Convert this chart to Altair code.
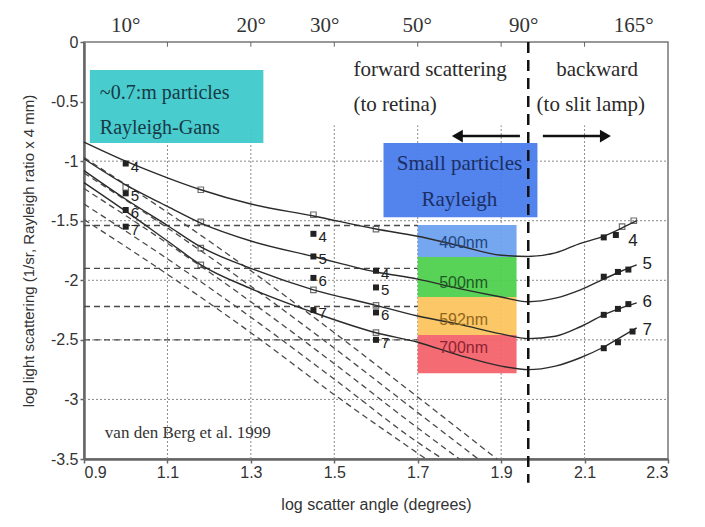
import altair as alt
import pandas as pd
import numpy as np

# ---------------- data ----------------
series_labels = ["4", "5", "6", "7"]

# solid curves (total scattering) for 400, 500, 592, 700 nm
solid_x = [0.9, 1.0, 1.1, 1.18, 1.3, 1.45, 1.6, 1.7, 1.8, 1.9, 1.965, 2.03, 2.09, 2.146, 2.19, 2.225]
solid_4 = [-0.84, -1.0, -1.14, -1.24, -1.36, -1.46, -1.57, -1.63, -1.71, -1.79, -1.80, -1.77, -1.69, -1.63, -1.56, -1.50]
solid_5 = [-0.98, -1.2, -1.38, -1.52, -1.67, -1.80, -1.93, -1.99, -2.07, -2.14, -2.18, -2.15, -2.08, -1.99, -1.92, -1.87]
solid_6 = [-1.08, -1.32, -1.54, -1.72, -1.90, -2.08, -2.21, -2.30, -2.37, -2.45, -2.49, -2.47, -2.39, -2.29, -2.23, -2.19]
solid_7 = [-1.18, -1.42, -1.67, -1.87, -2.07, -2.27, -2.44, -2.52, -2.63, -2.72, -2.75, -2.72, -2.65, -2.56, -2.47, -2.40]

# Rayleigh-Gans dashed curves
rg_a_x = [0.9, 1.1, 1.3, 1.5, 1.7, 1.89]
rg_a_y = [-0.97, -1.43, -1.92, -2.44, -2.98, -3.5]
rg_b_x = [0.9, 1.1, 1.3, 1.5, 1.7, 1.845]
rg_b_y = [-1.10, -1.56, -2.05, -2.57, -3.11, -3.5]
rg_c_x = [0.9, 1.1, 1.3, 1.5, 1.7, 1.80]
rg_c_y = [-1.23, -1.69, -2.18, -2.70, -3.24, -3.5]
rg_d_x = [0.9, 1.1, 1.3, 1.5, 1.7, 1.76]
rg_d_y = [-1.36, -1.82, -2.31, -2.83, -3.36, -3.5]
rg_e_x = [0.9, 1.1, 1.3, 1.5, 1.72]
rg_e_y = [-1.49, -1.95, -2.44, -2.96, -3.5]

# Rayleigh (horizontal dashed) levels, drawn from 0.9 to 1.7
rayleigh_y = [-1.54, -1.90, -2.22, -2.50]
rayleigh_x = [0.9, 1.70]

# open squares on the curves
open_x = [1.0, 1.18, 1.18, 1.18, 1.18, 1.45, 1.45, 1.6, 1.6, 1.6, 2.19, 2.218]
open_y = [-1.22, -1.24, -1.51, -1.73, -1.87, -1.45, -2.08, -1.57, -2.21, -2.44, -1.55, -1.50]

# filled, numbered data points
fill_x = [1.0, 1.0, 1.0, 1.0, 1.45, 1.45, 1.45, 1.45, 1.6, 1.6, 1.6, 1.6]
fill_y = [-1.02, -1.27, -1.41, -1.55, -1.61, -1.80, -1.98, -2.25, -1.92, -2.06, -2.27, -2.50]
fill_lab = ["4", "5", "6", "7", "4", "5", "6", "7", "4", "5", "6", "7"]

# filled points on the backward side
back_x = [2.146, 2.175, 2.146, 2.18, 2.205, 2.146, 2.18, 2.205, 2.146, 2.18, 2.215]
back_y = [-1.64, -1.62, -1.97, -1.93, -1.91, -2.29, -2.24, -2.20, -2.57, -2.52, -2.43]
back_lab_x = [2.205, 2.239, 2.239, 2.239]
back_lab_y = [-1.67, -1.86, -2.18, -2.42]

# axes
x_ticks = [0.9, 1.1, 1.3, 1.5, 1.7, 1.9, 2.1, 2.3]
y_ticks = [0, -0.5, -1, -1.5, -2, -2.5, -3, -3.5]
grid_x = [1.1, 1.3, 1.5, 1.7, 1.9, 2.1]
grid_y = [-1, -1.5, -2, -2.5, -3]
top_angles = [10, 20, 30, 50, 90, 165]
top_labels = ["10°", "20°", "30°", "50°", "90°", "165°"]

# colored boxes
band_names = ["400nm", "500nm", "592nm", "700nm"]
band_colors = ["#6ea2ef", "#4fd14f", "#fbc45f", "#f4636d"]
band_text_colors = ["#24457e", "#1f5a22", "#93661a", "#8e2230"]
band_edges = [-1.537, -1.805, -2.141, -2.46, -2.78]
band_x = [1.70, 1.937]

# ---------------- helpers ----------------
xscale = alt.Scale(domain=[0.9, 2.3], nice=False, zero=False)
yscale = alt.Scale(domain=[-3.5, 0], nice=False, zero=False)
xaxis = alt.Axis(values=x_ticks, title="log scatter angle (degrees)",
                 labelExpr="format(datum.value, '.1f')", grid=False,
                 tickSize=4, labelPadding=1, titlePadding=16)
yaxis = alt.Axis(values=y_ticks, title="log light scattering (1/sr, Rayleigh ratio x 4 mm)",
                 labelExpr="datum.value == 0 ? '0' : '-' + format(abs(datum.value), '')",
                 grid=False, tickSize=4, labelPadding=2, titlePadding=14)


def X(f="x"):
    return alt.X(f"{f}:Q", scale=xscale, axis=xaxis)


def Y(f="y"):
    return alt.Y(f"{f}:Q", scale=yscale, axis=yaxis)


SERIF = "Liberation Serif"
SANS = "Liberation Sans"

# ---------------- layers ----------------
gv = pd.DataFrame({"x": grid_x, "y": -3.5, "y2": -0.7})
grid_v = alt.Chart(gv).mark_rule(color="#8a8a8a", strokeDash=[2, 2], strokeWidth=1).encode(
    x=X(), y=Y(), y2="y2:Q")
gh = pd.DataFrame({"y": grid_y, "x": 0.9, "x2": 2.3})
grid_h = alt.Chart(gh).mark_rule(color="#8a8a8a", strokeDash=[2, 2], strokeWidth=1).encode(
    y=Y(), x=X(), x2="x2:Q")

boxes = pd.DataFrame({
    "x": [0.914, 1.618] + [band_x[0]] * 4,
    "x2": [1.33, 1.987] + [band_x[1]] * 4,
    "y": [-0.235, -0.848] + band_edges[:4],
    "y2": [-0.848, -1.47] + band_edges[1:],
    "color": ["#3fc9cb", "#4a7cec"] + band_colors,
})
rects = alt.Chart(boxes).mark_rect(opacity=0.95).encode(
    x=X(), x2="x2:Q", y=Y(), y2="y2:Q", color=alt.Color("color:N", scale=None))

rg_rows = []
for name, xs, ys in [("a", rg_a_x, rg_a_y), ("b", rg_b_x, rg_b_y), ("c", rg_c_x, rg_c_y),
                     ("d", rg_d_x, rg_d_y), ("e", rg_e_x, rg_e_y)]:
    for xv, yv in zip(xs, ys):
        rg_rows.append({"s": name, "x": xv, "y": yv})
rg = alt.Chart(pd.DataFrame(rg_rows)).mark_line(
    color="#4a4a4a", strokeDash=[6, 4], strokeWidth=1.3, interpolate="monotone").encode(
    x=X(), y=Y(), detail="s:N")

rl = pd.DataFrame({"y": rayleigh_y, "x": rayleigh_x[0], "x2": rayleigh_x[1]})
ray = alt.Chart(rl).mark_rule(color="#4a4a4a", strokeDash=[6, 4], strokeWidth=1.3).encode(
    y=Y(), x=X(), x2="x2:Q")

solid_rows = []
for lab, ys in zip(series_labels, [solid_4, solid_5, solid_6, solid_7]):
    for xv, yv in zip(solid_x, ys):
        solid_rows.append({"s": lab, "x": xv, "y": yv})
solid = alt.Chart(pd.DataFrame(solid_rows)).mark_line(
    color="#2b2b2b", strokeWidth=1.4, interpolate="monotone").encode(
    x=X(), y=Y(), detail="s:N")

opn = alt.Chart(pd.DataFrame({"x": open_x, "y": open_y})).mark_point(
    shape="square", filled=False, size=30, color="#333", strokeWidth=1.2).encode(x=X(), y=Y())

fl = pd.DataFrame({"x": fill_x, "y": fill_y, "t": fill_lab})
filled = alt.Chart(fl).mark_square(size=36, color="#222", opacity=1).encode(x=X(), y=Y())
filled_lab = alt.Chart(fl).mark_text(font=SANS, fontSize=15, color="#222", align="left",
                                     baseline="middle", dx=5, dy=3).encode(x=X(), y=Y(), text="t:N")

bk = pd.DataFrame({"x": back_x, "y": back_y})
back = alt.Chart(bk).mark_square(size=36, color="#222", opacity=1).encode(x=X(), y=Y())
bl = pd.DataFrame({"x": back_lab_x, "y": back_lab_y, "t": series_labels})
back_lab = alt.Chart(bl).mark_text(font=SANS, fontSize=17, color="#222", align="left",
                                   baseline="middle").encode(x=X(), y=Y(), text="t:N")

# band labels
btxt = pd.DataFrame({"x": 1.81, "y": [-1.69, -2.02, -2.33, -2.57], "t": band_names,
                     "c": band_text_colors})
band_lab = alt.Chart(btxt).mark_text(font=SANS, fontSize=16, baseline="middle").encode(
    x=X(), y=Y(), text="t:N", color=alt.Color("c:N", scale=None))

# serif annotations
ann_left = pd.DataFrame({
    "x": [0.938, 0.938, 1.546, 1.546, 0.95],
    "y": [-0.43, -0.72, -0.235, -0.53, -3.28],
    "t": ["~0.7:m particles", "Rayleigh-Gans", "forward scattering", "(to retina)",
          "van den Berg et al. 1999"],
    "size": [20, 20, 21, 21, 17],
    "c": ["#173a46", "#173a46", "#2a2a2a", "#2a2a2a", "#333333"],
})
ann_l = alt.Chart(ann_left).mark_text(font=SERIF, align="left", baseline="middle").encode(
    x=X(), y=Y(), text="t:N", size=alt.Size("size:Q", scale=None),
    color=alt.Color("c:N", scale=None))

ann_center = pd.DataFrame({
    "x": [1.80, 1.80, 2.13, 2.115],
    "y": [-1.02, -1.33, -0.235, -0.53],
    "t": ["Small particles", "Rayleigh", "backward", "(to slit lamp)"],
    "c": ["#1b2f63", "#1b2f63", "#2a2a2a", "#2a2a2a"],
})
ann_c = alt.Chart(ann_center).mark_text(font=SERIF, fontSize=21, align="center",
                                        baseline="middle").encode(
    x=X(), y=Y(), text="t:N", color=alt.Color("c:N", scale=None))

# 90 degree divider
vdiv = alt.Chart(pd.DataFrame({"x": [1.965], "y": [0.0], "y2": [-3.7]})).mark_rule(
    color="#111", strokeWidth=2.5, strokeDash=[11, 7]).encode(x=X(), y=Y(), y2="y2:Q")

# arrows
arr = pd.DataFrame({"x": [1.80, 2.0], "x2": [1.945, 2.145], "y": [-0.79, -0.79]})
arrows = alt.Chart(arr).mark_rule(color="#111", strokeWidth=2.5).encode(x=X(), x2="x2:Q", y=Y())
heads = pd.DataFrame({"x": [1.795, 2.15], "y": [-0.79, -0.79],
                      "shape": ["triangle-left", "triangle-right"]})
arrow_heads = alt.Chart(heads).mark_point(filled=True, color="#111", size=160, opacity=1).encode(
    x=X(), y=Y(), shape=alt.Shape("shape:N", scale=None))

# top angle axis
top = pd.DataFrame({"x": np.log10(top_angles), "y": 0.0, "t": top_labels})
top_lab = alt.Chart(top).mark_text(font=SERIF, fontSize=21, color="#333", baseline="bottom",
                                   dy=-6).encode(x=X(), y=Y(), text="t:N")
tt = pd.DataFrame({"x": grid_x, "y": 0.0, "y2": -0.04})
top_ticks = alt.Chart(tt).mark_rule(color="#666", strokeWidth=1).encode(x=X(), y=Y(), y2="y2:Q")

chart = alt.layer(
    grid_v, grid_h, rects, rg, ray, solid, opn, filled, filled_lab, back, back_lab,
    band_lab, ann_l, ann_c, vdiv, arrows, arrow_heads, top_lab, top_ticks
).properties(
    width=584, height=417,
    padding={"left": 76, "top": 34, "right": 29, "bottom": 56},
    autosize=alt.AutoSizeParams(type="none"),
    background="white",
).configure_view(
    stroke="#777", strokeWidth=1.5
).configure_axis(
    labelFont=SANS, labelFontSize=16, labelColor="#333",
    titleFont=SANS, titleFontSize=16, titleFontWeight="normal", titleColor="#333",
    domainColor="#666", domainWidth=2.5, tickColor="#666", tickWidth=1.5,
).configure_axisY(titleFontSize=15)

chart.save("out.html", embed_options={"renderer": "svg", "actions": False})
